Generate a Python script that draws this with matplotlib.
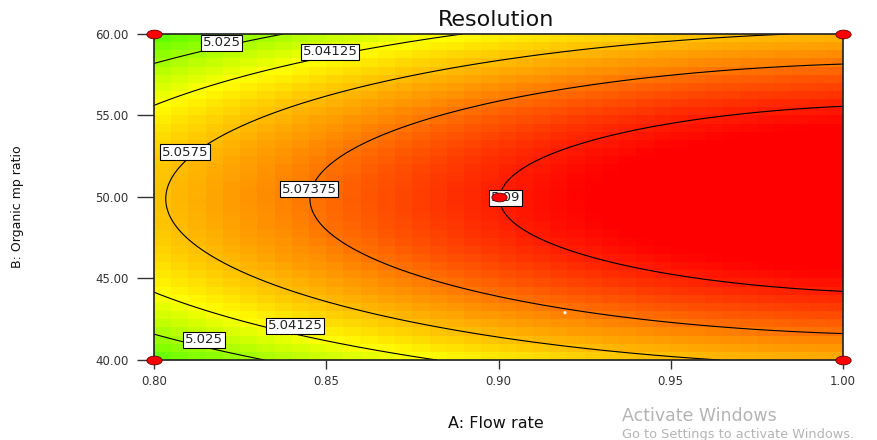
import numpy as np
import matplotlib
matplotlib.use("Agg")
import matplotlib.pyplot as plt
from matplotlib.colors import LinearSegmentedColormap, Normalize
from matplotlib.path import Path
from matplotlib.transforms import Affine2D

# ---- data -------------------------------------------------------------
title = "Resolution"
x_label = "A: Flow rate"
y_label = "B: Organic mp ratio"
x_ticks = [0.80, 0.85, 0.90, 0.95, 1.00]
x_tick_labels = ["0.80", "0.85", "0.90", "0.95", "1.00"]
y_ticks = [40.0, 45.0, 50.0, 55.0, 60.0]
y_tick_labels = ["40.00", "45.00", "50.00", "55.00", "60.00"]
x_range = [0.80, 1.00]
y_range = [40.0, 60.0]

# quadratic response-surface model in coded units
intercept = 5.0899
coef_A = 0.02424
coef_B = -0.001
coef_A2 = -0.00964
coef_B2 = -0.045
coef_AB = 0.0

contour_levels = [5.025, 5.04125, 5.0575, 5.07375, 5.09]
label_texts = ["5.025", "5.025", "5.04125", "5.04125", "5.0575", "5.07375", "5.09"]
label_x = [0.8197, 0.8145, 0.8511, 0.8410, 0.8090, 0.8450, 0.9020]
label_y = [59.45, 41.23, 58.90, 42.09, 52.76, 50.49, 49.94]

design_x = [0.80, 0.80, 1.00, 1.00, 0.90]
design_y = [40.0, 60.0, 40.0, 60.0, 50.0]
flag_x = [0.9193]
flag_y = [42.9]

# ---- figure -------------------------------------------------------------
fig = plt.figure(figsize=(8.77, 4.40), dpi=100)
ax = fig.add_axes([154 / 877, 1 - 360 / 440, (843 - 154) / 877, (360 - 34) / 440])


def response(a, b):
    u = (a - 0.9) / 0.1
    v = (b - 50.0) / 10.0
    return (intercept + coef_A * u + coef_B * v + coef_A2 * u ** 2
            + coef_B2 * v ** 2 + coef_AB * u * v)


cmap = LinearSegmentedColormap.from_list(
    "de", [(0.0, (0.33, 1.0, 0.0)), (0.33, (1.0, 1.0, 0.0)),
           (0.62, (1.0, 0.55, 0.0)),
           (0.90, (1.0, 0.0, 0.0)), (1.0, (1.0, 0.0, 0.0))])

# coarse blocky colour grid
nx, ny = 40, 40
xe = np.linspace(x_range[0], x_range[1], nx + 1)
ye = np.linspace(y_range[0], y_range[1], ny + 1)
xc = 0.5 * (xe[:-1] + xe[1:])
yc = 0.5 * (ye[:-1] + ye[1:])
XC, YC = np.meshgrid(xc, yc)
ZC = response(XC, YC)
norm = Normalize(vmin=5.011, vmax=5.105)
ax.pcolormesh(xe, ye, ZC, cmap=cmap, norm=norm, shading="flat")

# smooth contour lines
xf = np.linspace(x_range[0], x_range[1], 300)
yf = np.linspace(y_range[0], y_range[1], 300)
XF, YF = np.meshgrid(xf, yf)
ZF = response(XF, YF)
ax.contour(XF, YF, ZF, levels=contour_levels, colors="black", linewidths=0.8)

for t, lx, ly in zip(label_texts, label_x, label_y):
    ax.text(lx, ly, t, ha="center", va="center", fontsize=9.5, color="#222222",
            bbox=dict(boxstyle="square,pad=0.12", fc="white", ec="black", lw=0.8),
            zorder=5)

# design points (flattened red ellipses)
ell = Path.unit_circle().transformed(Affine2D().scale(1.75, 1.0))
ax.scatter(design_x, design_y, marker=ell, s=11.0 ** 2, c="#ff0000",
           edgecolors="#600000", linewidths=0.6, zorder=6, clip_on=False)
ax.scatter(flag_x, flag_y, marker="o", s=5, c="white", edgecolors="none", zorder=6)

ax.set_xlim(x_range)
ax.set_ylim(y_range)
ax.set_xticks(x_ticks)
ax.set_xticklabels(x_tick_labels)
ax.set_yticks(y_ticks)
ax.set_yticklabels(y_tick_labels)
ax.tick_params(axis="x", direction="out", length=6.5, width=1.0, colors="#333333",
               labelsize=8.5, pad=4)
ax.tick_params(axis="y", direction="out", length=12.5, width=1.0, colors="#333333",
               labelsize=8.5, pad=6)
for s in ax.spines.values():
    s.set_linewidth(1.2)
    s.set_color("#202020")

fig.text(496 / 877, 1 - 20 / 440, title, ha="center", va="center", fontsize=16,
         color="#111111")
fig.text(496 / 877, 1 - 423 / 440, x_label, ha="center", va="center", fontsize=11.5,
         color="#111111")
fig.text(18 / 877, 1 - 207 / 440, y_label, ha="center", va="center", fontsize=9,
         rotation=90, color="#111111")

fig.text(622 / 877, 1 - 416 / 440, "Activate Windows", ha="left", va="center",
         fontsize=12.5, color="#b4b4b4")
fig.text(622 / 877, 1 - 434 / 440, "Go to Settings to activate Windows.", ha="left",
         va="center", fontsize=9.3, color="#b4b4b4")

fig.savefig("out.png", dpi=100)
